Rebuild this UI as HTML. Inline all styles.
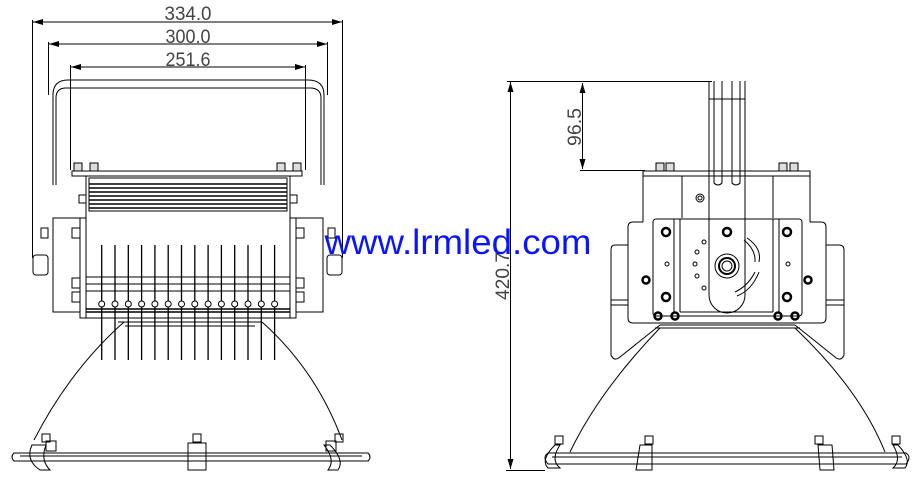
<!DOCTYPE html>
<html><head><meta charset="utf-8"><style>
html,body{margin:0;padding:0;background:#fff}
svg{display:block}
.t{font-family:"Liberation Sans",sans-serif;font-size:19px;fill:#444}
</style></head><body>
<svg width="918" height="485" viewBox="0 0 918 485" xmlns="http://www.w3.org/2000/svg">
<defs>
<marker id="a" markerWidth="10" markerHeight="6" refX="10" refY="3" orient="auto-start-reverse" markerUnits="userSpaceOnUse"><path d="M0,0 L10,3 L0,6z" fill="#000"/></marker>
</defs>
<g fill="none" stroke="#000" stroke-width="1">
<line x1="33" y1="22" x2="342" y2="22" marker-start="url(#a)" marker-end="url(#a)"/>
<line x1="49" y1="44" x2="327" y2="44" marker-start="url(#a)" marker-end="url(#a)"/>
<line x1="71" y1="67" x2="305" y2="67" marker-start="url(#a)" marker-end="url(#a)"/>
<line x1="32.5" y1="20" x2="32.5" y2="258"/>
<line x1="342.5" y1="20" x2="342.5" y2="258"/>
<line x1="48.5" y1="42" x2="48.5" y2="95"/>
<line x1="327.5" y1="42" x2="327.5" y2="95"/>
<line x1="70.5" y1="65" x2="70.5" y2="170"/>
<line x1="305.5" y1="65" x2="305.5" y2="170"/>
<path d="M53,185 V95 Q53,80 68,80 H308 Q324,80 324,95 V185"/>
<path d="M56,185 V98 Q56,88 66,88 H310 Q321,88 321,98 V185"/>
<rect x="72" y="171" width="230" height="5"/>
<rect x="74" y="163" width="8" height="8" fill="#ddd"/><rect x="90" y="163" width="8" height="8" fill="#ddd"/>
<rect x="277" y="163" width="8" height="8" fill="#ddd"/><rect x="293" y="163" width="8" height="8" fill="#ddd"/>
<rect x="86" y="176" width="204" height="142"/>
<rect x="89" y="178" width="198" height="33"/>
<path d="M89,184H287M89,188H287M89,192H287M89,196H287M89,200H287M89,204H287M89,208H287" stroke-width="1.5"/>
<rect x="79" y="195" width="7" height="8"/><rect x="290" y="195" width="7" height="8"/>
<rect x="53" y="218" width="27" height="94"/><rect x="80" y="218" width="6" height="100"/>
<rect x="296" y="218" width="27" height="94"/><rect x="290" y="218" width="6" height="100"/>
<rect x="33" y="255" width="15" height="20" rx="3"/><rect x="327" y="255" width="15" height="20" rx="3"/>
<rect x="41" y="228" width="7" height="10"/><rect x="328" y="228" width="7" height="10"/>
<rect x="72" y="228" width="8" height="10"/><rect x="72" y="278" width="8" height="10"/><rect x="72" y="292" width="8" height="10"/>
<rect x="296" y="228" width="8" height="10"/><rect x="296" y="278" width="8" height="10"/><rect x="296" y="292" width="8" height="10"/>
<path d="M86,277H290M86,284H290M86,291H290"/>
<g stroke-width="1.3">
<path d="M101.7,245V360M115,245V360M128.3,245V360M141.6,245V360M154.9,245V360M168.2,245V360M181.5,245V360M194.8,245V360M208.1,245V360M221.4,245V360M234.7,245V360M248,245V360M261.3,245V360M274.6,245V360"/>
</g>
<g fill="#fff">
<circle cx="101.7" cy="304" r="3"/><circle cx="115" cy="304" r="3"/><circle cx="128.3" cy="304" r="3"/><circle cx="141.6" cy="304" r="3"/><circle cx="154.9" cy="304" r="3"/><circle cx="168.2" cy="304" r="3"/><circle cx="181.5" cy="304" r="3"/><circle cx="194.8" cy="304" r="3"/><circle cx="208.1" cy="304" r="3"/><circle cx="221.4" cy="304" r="3"/><circle cx="234.7" cy="304" r="3"/><circle cx="248" cy="304" r="3"/><circle cx="261.3" cy="304" r="3"/><circle cx="274.6" cy="304" r="3"/>
</g>
<path d="M86,309H290M86,312H290" stroke-width="1.5"/>
<path d="M118,322H262M125,326H255"/>
<path d="M124,322 Q70,370 34,440"/>
<path d="M262,322 Q316,370 342,440"/>
<path d="M14,453 H368 Q372,457 368,461 H14 Q10,457 14,453Z"/>
<path d="M20,456H362" />
<path d="M32,445 Q25,460 40,470 H50 Q40,460 46,445Z"/>
<path d="M330,445 Q345,460 338,470 H328 Q336,460 324,445Z"/>
<rect x="188" y="443" width="18" height="27"/><rect x="193" y="434" width="8" height="8"/>
<rect x="42" y="434" width="8" height="8"/><rect x="335" y="434" width="8" height="8"/>
<rect x="46" y="441" width="10" height="10"/><rect x="326" y="441" width="10" height="10"/>

<line x1="510.5" y1="82" x2="510.5" y2="469" marker-start="url(#a)" marker-end="url(#a)"/>
<line x1="506" y1="470.5" x2="545" y2="470.5"/>
<line x1="507" y1="81.5" x2="712" y2="81.5"/>
<line x1="582.5" y1="83" x2="582.5" y2="169" marker-start="url(#a)" marker-end="url(#a)"/>
<line x1="580" y1="170.5" x2="645" y2="170.5"/>
<path d="M709,81 V295 M745,81 V295 M709,295 A18,18 0 0 0 745,295"/>
<path d="M714,81 V183 Q718,187 722,183 V81 M732,81 V183 Q736,187 740,183 V81"/>
<path d="M709,99H745"/>
<rect x="643" y="171" width="167" height="5"/>
<rect x="656" y="163" width="8" height="8" fill="#ddd"/><rect x="666" y="163" width="8" height="8" fill="#ddd"/>
<rect x="779" y="163" width="8" height="8" fill="#ddd"/><rect x="790" y="163" width="8" height="8" fill="#ddd"/>
<path d="M643,176 V222 M810,176 V222 M682,176 V218 M773,176 V218"/>
<circle cx="700" cy="198" r="4"/><circle cx="700" cy="198" r="2"/>
<path d="M643,222 H633 Q628,222 628,227 V318 Q628,323 633,323 H821 Q826,323 826,318 V227 Q826,222 821,222 H810"/>
<rect x="653" y="219" width="149" height="97" rx="3"/>
<path d="M674,219V312M680,219V312M773,219V312M779,219V312M680,312H773"/>
<path d="M628,245 H615 Q611,245 611,250 V355 Q614,362 620,357 L660,325"/>
<path d="M826,245 H839 Q844,245 844,250 V355 Q841,362 835,357 L795,325"/>
<path d="M611,300H628M611,305H628M826,300H844M826,305H844"/>
<g stroke-width="2.5">
<circle cx="666" cy="232" r="4"/><circle cx="727" cy="232" r="4"/><circle cx="787" cy="232" r="4"/>
<circle cx="666" cy="297" r="4"/><circle cx="787" cy="297" r="4"/>
<circle cx="646" cy="280" r="3.5"/><circle cx="808" cy="280" r="3.5"/>
<circle cx="658" cy="316" r="3.5"/><circle cx="675" cy="316" r="3.5"/><circle cx="778" cy="316" r="3.5"/><circle cx="795" cy="316" r="3.5"/>
</g>
<circle cx="727" cy="266" r="12"/><circle cx="727" cy="266" r="8" stroke-width="2"/><circle cx="727" cy="266" r="5"/>
<circle cx="667" cy="264" r="2"/><circle cx="788" cy="264" r="2"/>
<circle cx="704" cy="242" r="2"/><circle cx="697" cy="252" r="2"/><circle cx="695" cy="264" r="2"/><circle cx="697" cy="276" r="2"/><circle cx="704" cy="288" r="2"/>
<path d="M747,238 Q762,248 759,262 M744,240 Q756,250 755,262"/>
<path d="M759,272 Q752,290 737,296 M755,272 Q748,286 735,292"/>
<path d="M660,325H795M655,328H800"/>
<path d="M660,328 Q600,390 570,452"/>
<path d="M795,328 Q860,390 885,452"/>
<path d="M548,453 H906 Q912,457 906,464 H548 Q542,457 548,453Z"/>
<path d="M552,457H902"/>
<path d="M555,445 Q540,460 548,468 H560 Q550,460 560,445Z"/>
<path d="M898,445 Q912,460 905,468 H893 Q902,460 893,445Z"/>
<path d="M640,445 L636,470 H652 L652,445Z"/><path d="M818,445 L820,470 H834 L832,445Z"/>
<rect x="555" y="436" width="8" height="8"/><rect x="645" y="436" width="8" height="8"/><rect x="815" y="436" width="8" height="8"/><rect x="892" y="436" width="8" height="8"/>
</g>
<text class="t" x="188" y="20" text-anchor="middle" textLength="47" lengthAdjust="spacingAndGlyphs">334.0</text>
<text class="t" x="188" y="43" text-anchor="middle" textLength="45" lengthAdjust="spacingAndGlyphs">300.0</text>
<text class="t" x="188" y="66" text-anchor="middle" textLength="45" lengthAdjust="spacingAndGlyphs">251.6</text>
<text class="t" transform="translate(581,127) rotate(-90)" text-anchor="middle" textLength="38" lengthAdjust="spacingAndGlyphs">96.5</text>
<text class="t" transform="translate(509,276) rotate(-90)" text-anchor="middle" textLength="48" lengthAdjust="spacingAndGlyphs">420.7</text>
<text x="458" y="254" text-anchor="middle" font-family="Liberation Sans, sans-serif" font-size="35" fill="#0a14ff" textLength="267" lengthAdjust="spacingAndGlyphs">www.lrmled.com</text>
</svg>
</body></html>
